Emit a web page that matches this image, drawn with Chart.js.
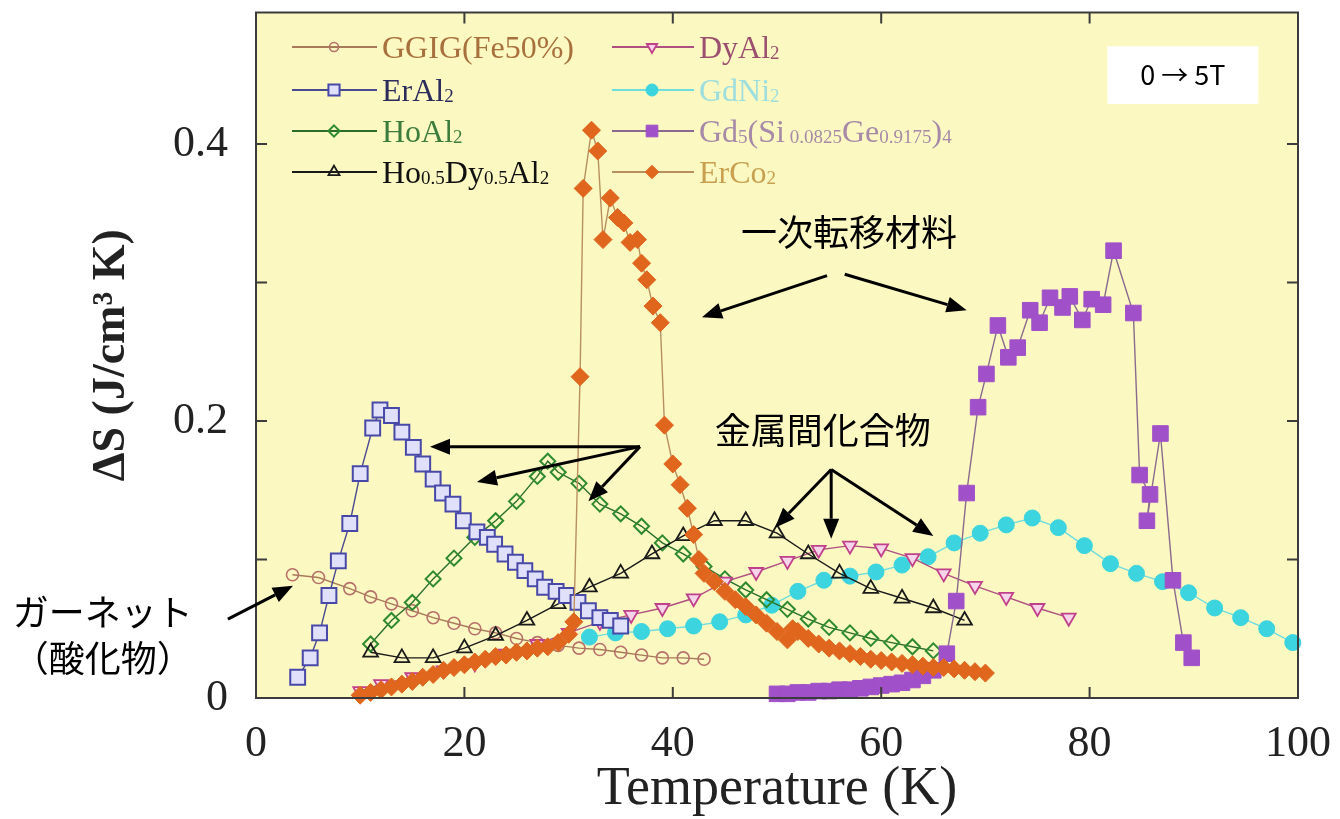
<!DOCTYPE html>
<html>
<head>
<meta charset="utf-8">
<script src="https://cdn.jsdelivr.net/npm/chart.js@4.4.1/dist/chart.umd.min.js"></script>
<style>
  html, body { margin: 0; padding: 0; background: #fff; }
  canvas { display: block; }
</style>
</head>
<body>
<canvas id="chart" width="1340" height="819"></canvas>
<script>
// --- dados (T em K, ΔS em J/cm3 K) ---
const ggigT = [3.5, 6, 9, 11, 13, 15, 17, 19, 21, 23, 25, 27, 29, 31, 33, 35, 37, 39, 41, 43];
const ggigS = [0.089, 0.087, 0.079, 0.073, 0.068, 0.063, 0.058, 0.054, 0.050, 0.047, 0.043, 0.040, 0.038, 0.036, 0.035, 0.033, 0.031, 0.029, 0.029, 0.028];

const erAlT = [4, 5.2, 6.1, 7, 7.9, 9, 10, 11.2, 11.9, 13, 14, 15.1, 16, 17, 17.9, 18.9, 19.9, 21.2, 22.2, 22.9, 23.9, 24.9, 25.8, 26.8, 27.7, 28.8, 29.8, 30.9, 31.9, 33, 34, 35];
const erAlS = [0.015, 0.029, 0.047, 0.074, 0.099, 0.126, 0.162, 0.195, 0.208, 0.204, 0.192, 0.181, 0.169, 0.158, 0.148, 0.140, 0.128, 0.120, 0.116, 0.111, 0.104, 0.098, 0.092, 0.086, 0.080, 0.077, 0.074, 0.069, 0.063, 0.058, 0.056, 0.052];

const hoAlT = [11, 13, 15, 17, 19, 21, 23, 25, 27, 28, 29, 31, 33, 35, 37, 39, 41, 43, 45, 47, 49, 51, 53, 55, 57, 59, 61, 63, 65];
const hoAlS = [0.039, 0.056, 0.069, 0.086, 0.101, 0.116, 0.128, 0.142, 0.160, 0.171, 0.163, 0.155, 0.140, 0.133, 0.124, 0.112, 0.104, 0.095, 0.086, 0.078, 0.071, 0.064, 0.057, 0.051, 0.047, 0.043, 0.040, 0.037, 0.034];

const hoDyT = [11, 14, 17, 20, 23, 26, 29, 32, 35, 38, 41, 44, 47, 50, 53, 56, 59, 62, 65, 68];
const hoDyS = [0.033, 0.029, 0.029, 0.036, 0.045, 0.056, 0.068, 0.080, 0.090, 0.104, 0.117, 0.128, 0.128, 0.119, 0.104, 0.090, 0.079, 0.072, 0.065, 0.056];

const dyAlT = [10, 12, 15, 18, 21, 24, 27, 30, 33, 36, 39, 42, 45, 48, 51, 54, 57, 60, 63, 66, 69, 72, 75, 78];
const dyAlS = [0.005, 0.010, 0.015, 0.020, 0.025, 0.032, 0.039, 0.047, 0.055, 0.060, 0.065, 0.072, 0.084, 0.091, 0.099, 0.107, 0.110, 0.108, 0.101, 0.090, 0.081, 0.073, 0.065, 0.058];

const gdNiT = [32, 34.5, 37, 39.5, 42, 44.5, 47, 49.5, 52, 54.5, 57, 59.5, 62, 64.5, 67, 69.5, 72, 74.5, 77, 79.5, 82, 84.5, 87, 89.5, 92, 94.5, 97, 99.5];
const gdNiS = [0.044, 0.047, 0.048, 0.050, 0.052, 0.055, 0.060, 0.067, 0.077, 0.085, 0.088, 0.091, 0.096, 0.102, 0.112, 0.119, 0.125, 0.130, 0.123, 0.110, 0.097, 0.090, 0.084, 0.076, 0.065, 0.058, 0.050, 0.040];

const gd5T = [50, 51, 52, 53, 54, 55, 56, 57, 58, 59, 60, 61, 62, 63, 64, 65, 66.3, 67.2, 68.2, 69.3, 70.1, 71.2, 72.2, 73.1, 74.3, 75.2, 76.2, 77.4, 78.1, 79.3, 80.2, 81.3, 82.3, 84.2, 84.8, 85.8, 85.5, 86.8, 88, 89, 89.8];
const gd5S = [0.003, 0.003, 0.004, 0.004, 0.005, 0.005, 0.006, 0.006, 0.007, 0.008, 0.009, 0.010, 0.011, 0.013, 0.016, 0.020, 0.032, 0.070, 0.148, 0.210, 0.234, 0.269, 0.246, 0.253, 0.280, 0.271, 0.289, 0.282, 0.290, 0.273, 0.288, 0.284, 0.323, 0.278, 0.161, 0.147, 0.128, 0.191, 0.085, 0.040, 0.029];

const erCoT = [10, 11, 12, 13, 14, 15, 16, 17, 18, 19, 20, 21, 22, 23, 24, 25, 26, 27, 28, 29, 30, 30.5, 31.1, 31.4, 32.2, 32.8, 33.3, 34, 34.7, 35.3, 35.9, 36.6, 37, 37.5, 38.1, 38.8, 39.2, 40, 40.7, 41.4, 42, 42.5, 43, 44, 45, 46, 47, 48, 49, 50, 51, 51.5, 52, 53, 54, 55, 56, 57, 58, 59, 60, 61, 62, 63, 64, 65, 66, 67, 68, 69, 70];
const erCoS = [0.002, 0.004, 0.006, 0.008, 0.010, 0.012, 0.015, 0.017, 0.020, 0.022, 0.024, 0.026, 0.028, 0.030, 0.031, 0.033, 0.034, 0.036, 0.037, 0.040, 0.046, 0.055, 0.232, 0.368, 0.410, 0.395, 0.331, 0.361, 0.347, 0.343, 0.329, 0.331, 0.314, 0.302, 0.283, 0.271, 0.197, 0.169, 0.154, 0.137, 0.118, 0.100, 0.090, 0.084, 0.077, 0.071, 0.066, 0.060, 0.054, 0.048, 0.042, 0.050, 0.048, 0.043, 0.039, 0.036, 0.034, 0.032, 0.030, 0.028, 0.027, 0.026, 0.025, 0.024, 0.023, 0.022, 0.022, 0.021, 0.020, 0.019, 0.018];

// ticks dos eixos
const xTicks = [0, 20, 40, 60, 80, 100];
const yTicks = [0, 0.1, 0.2, 0.3, 0.4];
const yLabeled = ['0', '0.2', '0.4'];

// legenda: partes do texto, [texto, pequeno?]
const legendLabels = [
  [['GGIG(Fe50%)', false]],
  [['ErAl', false], ['2', true]],
  [['HoAl', false], ['2', true]],
  [['Ho', false], ['0.5', true], ['Dy', false], ['0.5', true], ['Al', false], ['2', true]],
  [['DyAl', false], ['2', true]],
  [['GdNi', false], ['2', true]],
  [['Gd', false], ['5', true], ['(Si', false], [' 0.0825', true], ['Ge', false], ['0.9175', true], [')', false], ['4', true]],
  [['ErCo', false], ['2', true]]
];

const pts = (xs, ys) => xs.map((x, i) => ({ x: x, y: ys[i] }));

// estilo de cada série
const series = [
  { data: pts(ggigT, ggigS), line: '#a87a5a', edge: '#b8706a', fill: 'rgba(0,0,0,0)', style: 'circle', r: 6, bw: 1.6, text: '#a8703c', order: 7 },
  { data: pts(erAlT, erAlS), line: '#4a4a90', edge: '#4848a8', fill: '#e0e0fa', style: 'rect', r: 10.5, bw: 2, text: '#2c2c5c', order: 2 },
  { data: pts(hoAlT, hoAlS), line: '#2a6e2a', edge: '#2f8a2f', fill: 'rgba(0,0,0,0)', style: 'rectRot', r: 7.5, bw: 2, text: '#3c7c3c', order: 5 },
  { data: pts(hoDyT, hoDyS), line: '#1a1a1a', edge: '#1a1a1a', fill: 'rgba(0,0,0,0)', style: 'triangle', r: 8.5, bw: 1.8, text: '#111111', order: 3 },
  { data: pts(dyAlT, dyAlS), line: '#b05080', edge: '#c0408a', fill: '#f6d4ea', style: 'triangle', rot: 180, r: 8, bw: 1.8, text: '#9c5070', order: 4 },
  { data: pts(gdNiT, gdNiS), line: '#70dede', edge: '#3cd4de', fill: '#3cd4de', style: 'circle', r: 8, bw: 1, text: '#9edede', order: 6 },
  { data: pts(gd5T, gd5S), line: '#8a6a8e', edge: '#a050c8', fill: '#a050c8', style: 'rect', r: 11, bw: 1, text: '#a68aa8', order: 1 },
  { data: pts(erCoT, erCoS), line: '#b89060', edge: '#e0661e', fill: '#e0661e', style: 'rectRot', r: 9, bw: 1, text: '#c8a050', order: 0 }
];

// anotações em coordenadas de dados
const arrows = [
  [54.8, 0.305, 42.8, 0.275],
  [56.5, 0.306, 68.2, 0.280],
  [36.85, 0.1815, 16.7, 0.1815],
  [36.85, 0.1815, 21.2, 0.156],
  [36.85, 0.1815, 31.9, 0.142],
  [55.2, 0.165, 49.8, 0.123],
  [55.2, 0.165, 55.2, 0.115],
  [55.2, 0.165, 65.0, 0.117],
  [-2.7, 0.057, 3.55, 0.081]
];
const notes = [
  ['一次転移材料', 56.9, 0.3364],
  ['金属間化合物', 54.4, 0.193],
  ['ガーネット', -14.7, 0.062],
  ['（酸化物）', -14.7, 0.029]
];

function drawMarker(ctx, s, x, y) {
  const r = s.r;
  ctx.save();
  ctx.fillStyle = s.fill;
  ctx.strokeStyle = s.edge;
  ctx.lineWidth = s.bw;
  ctx.beginPath();
  if (s.style === 'circle') {
    ctx.arc(x, y, r, 0, Math.PI * 2);
  } else if (s.style === 'rect') {
    const h = Math.SQRT1_2 * r;
    ctx.rect(x - h, y - h, 2 * h, 2 * h);
  } else if (s.style === 'rectRot') {
    ctx.moveTo(x, y - r); ctx.lineTo(x + r, y); ctx.lineTo(x, y + r); ctx.lineTo(x - r, y); ctx.closePath();
  } else if (s.style === 'triangle') {
    let a = (s.rot || 0) * Math.PI / 180;
    for (let k = 0; k < 3; k++) {
      const px = x + Math.sin(a) * r, py = y - Math.cos(a) * r;
      k === 0 ? ctx.moveTo(px, py) : ctx.lineTo(px, py);
      a += Math.PI * 2 / 3;
    }
    ctx.closePath();
  }
  ctx.fill();
  ctx.stroke();
  ctx.restore();
}

function drawArrow(ctx, x1, y1, x2, y2) {
  const ang = Math.atan2(y2 - y1, x2 - x1);
  const hl = 20, hw = 8;
  const bx = x2 - Math.cos(ang) * hl, by = y2 - Math.sin(ang) * hl;
  ctx.beginPath();
  ctx.moveTo(x1, y1);
  ctx.lineTo(bx, by);
  ctx.stroke();
  ctx.beginPath();
  ctx.moveTo(x2, y2);
  ctx.lineTo(bx + Math.sin(ang) * hw, by - Math.cos(ang) * hw);
  ctx.lineTo(bx - Math.sin(ang) * hw, by + Math.cos(ang) * hw);
  ctx.closePath();
  ctx.fill();
}

const framePlugin = {
  id: 'frame',
  beforeDraw(chart) {
    const { ctx, chartArea: a } = chart;
    ctx.save();
    ctx.fillStyle = '#ffffff';
    ctx.fillRect(0, 0, chart.width, chart.height);
    ctx.fillStyle = '#fbf8c2';
    ctx.fillRect(a.left, a.top, a.right - a.left, a.bottom - a.top);
    ctx.restore();
  },
  afterDatasetsDraw(chart) {
    const { ctx, chartArea: a, scales } = chart;
    const xs = scales.x, ys = scales.y;
    ctx.save();
    // moldura e ticks para dentro
    ctx.strokeStyle = '#3c3c3c';
    ctx.lineWidth = 2;
    ctx.strokeRect(a.left, a.top, a.right - a.left, a.bottom - a.top);
    ctx.beginPath();
    xTicks.forEach(v => {
      const px = xs.getPixelForValue(v);
      ctx.moveTo(px, a.bottom); ctx.lineTo(px, a.bottom - 11);
      ctx.moveTo(px, a.top); ctx.lineTo(px, a.top + 11);
    });
    yTicks.forEach(v => {
      const py = ys.getPixelForValue(v);
      ctx.moveTo(a.left, py); ctx.lineTo(a.left + 11, py);
      ctx.moveTo(a.right, py); ctx.lineTo(a.right - 11, py);
    });
    ctx.stroke();

    // legenda em duas colunas
    const cols = [{ l0: 292, l1: 377, m: 334, t: 382 }, { l0: 612, l1: 694, m: 652, t: 699 }];
    const rows = [47, 90, 131, 172];
    legendLabels.forEach((parts, i) => {
      const s = series[i];
      const c = cols[i < 4 ? 0 : 1], y = rows[i % 4];
      ctx.strokeStyle = s.line;
      ctx.lineWidth = 2;
      ctx.beginPath(); ctx.moveTo(c.l0, y); ctx.lineTo(c.l1, y); ctx.stroke();
      drawMarker(ctx, Object.assign({}, s, { r: s.r * 0.75 }), c.m, y);
      let x = c.t;
      ctx.fillStyle = s.text;
      ctx.textBaseline = 'alphabetic';
      ctx.textAlign = 'left';
      parts.forEach(([txt, small]) => {
        ctx.font = small ? '19px "Liberation Serif"' : '32px "Liberation Serif"';
        ctx.fillText(txt, x, y + 11 + (small ? 1 : 0));
        x += ctx.measureText(txt).width;
      });
    });

    // setas e textos em japonês
    ctx.strokeStyle = '#000';
    ctx.fillStyle = '#000';
    ctx.lineWidth = 3;
    arrows.forEach(([t1, s1, t2, s2]) => {
      drawArrow(ctx, xs.getPixelForValue(t1), ys.getPixelForValue(s1), xs.getPixelForValue(t2), ys.getPixelForValue(s2));
    });
    ctx.font = '36px "Noto Sans CJK JP"';
    ctx.textAlign = 'center';
    ctx.textBaseline = 'middle';
    notes.forEach(([txt, t, s]) => ctx.fillText(txt, xs.getPixelForValue(t), ys.getPixelForValue(s)));

    // caixa "0 → 5T"
    const bx0 = xs.getPixelForValue(81.7), bx1 = xs.getPixelForValue(96.2);
    const by0 = ys.getPixelForValue(0.4706), by1 = ys.getPixelForValue(0.429);
    ctx.fillStyle = '#ffffff';
    ctx.fillRect(bx0, by0, bx1 - bx0, by1 - by0);
    ctx.fillStyle = '#000';
    ctx.font = '27px "Noto Sans CJK JP"';
    ctx.fillText('0 → 5T', (bx0 + bx1) / 2, (by0 + by1) / 2);
    ctx.restore();
  }
};

const datasets = series.map(s => ({
  data: s.data,
  showLine: true,
  borderColor: s.line,
  borderWidth: 1.4,
  pointStyle: s.style,
  pointRotation: s.rot || 0,
  pointRadius: s.r,
  pointBorderWidth: s.bw,
  pointBorderColor: s.edge,
  pointBackgroundColor: s.fill,
  order: s.order,
  clip: false
}));

const serif = 'Liberation Serif';

new Chart(document.getElementById('chart'), {
  type: 'scatter',
  data: { datasets: datasets },
  options: {
    responsive: false,
    animation: false,
    devicePixelRatio: 1,
    layout: { padding: { top: 8, right: 42, left: 0, bottom: 0 } },
    plugins: { legend: { display: false }, tooltip: { enabled: false } },
    scales: {
      x: {
        type: 'linear', min: 0, max: 100,
        afterBuildTicks: s => { s.ticks = xTicks.map(v => ({ value: v })); },
        ticks: { font: { family: serif, size: 44 }, color: '#222', padding: 20, maxRotation: 0 },
        grid: { display: false, drawTicks: false },
        border: { display: false },
        title: { display: true, text: 'Temperature (K)', color: '#222', font: { family: serif, size: 54, lineHeight: 1 }, padding: { top: 0, bottom: 2 } },
        afterFit: s => { s.height = 121; s.paddingLeft = 0; s.paddingRight = 0; }
      },
      y: {
        type: 'linear', min: 0, max: 0.495,
        afterBuildTicks: s => { s.ticks = yTicks.map(v => ({ value: v })); },
        ticks: {
          font: { family: serif, size: 44 }, color: '#222', padding: 28,
          callback: v => { const t = String(Math.round(v * 10) / 10); return yLabeled.includes(t) ? t : ''; }
        },
        grid: { display: false, drawTicks: false },
        border: { display: false },
        title: { display: true, text: 'ΔS (J/cm³ K)', color: '#222', font: { family: serif, size: 46, weight: 'bold', lineHeight: 1 }, padding: { top: 89, bottom: 0 } },
        afterFit: s => { s.width = 256; s.paddingTop = 0; s.paddingBottom = 0; }
      }
    }
  },
  plugins: [framePlugin]
});
</script>
</body>
</html>
